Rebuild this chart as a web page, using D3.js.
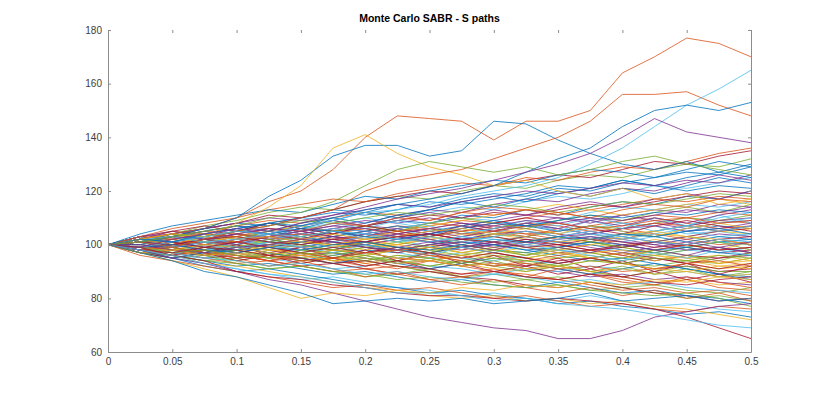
<!DOCTYPE html>
<html>
<head>
<meta charset="utf-8">
<script src="https://cdn.jsdelivr.net/npm/d3@7"></script>
<style>
  body { margin: 0; background: #fff; }
  svg { display: block; font-family: "Liberation Sans", Arial, sans-serif; }
</style>
</head>
<body>
<div id="viz"></div>
<script>
const margin = {top: 30, right: 79, bottom: 44, left: 108};
const width = 830;
const height = 396;

// time grid of the paths (years)
const timeGrid = [0, 0.025, 0.05, 0.075, 0.1, 0.125, 0.15, 0.175, 0.2, 0.225, 0.25,
  0.275, 0.3, 0.325, 0.35, 0.375, 0.4, 0.425, 0.45, 0.475, 0.5];

const xTicks = [0, 0.05, 0.1, 0.15, 0.2, 0.25, 0.3, 0.35, 0.4, 0.45, 0.5];
const yTicks = [60, 80, 100, 120, 140, 160, 180];

// paths inside the main band (values read / estimated from the picture)
const bandPaths = [
  [100,102,99,101,104,103,106,104,107,109,108,111,110,113,111,114,116,115,118,117,120],
  [100,98,99,96,97,94,95,93,91,92,90,89,91,88,87,89,86,85,87,84,83],
  [100,101,103,100,98,99,102,101,99,100,103,101,104,102,100,101,99,102,100,98,101],
  [100,99,97,98,101,103,102,105,107,106,104,107,109,111,110,108,111,113,112,115,114],
  [100,97,95,96,93,91,92,90,88,89,91,88,86,87,85,83,84,82,80,81,79],
  [100,102,104,106,105,108,110,109,107,110,112,114,113,116,118,117,119,122,121,123,125],
  [100,99,101,99,97,95,96,98,97,95,94,96,93,92,94,95,93,91,92,90,91],
  [100,101,99,102,104,102,100,98,101,103,102,100,98,97,99,101,104,103,105,107,106],
  [100,103,101,104,102,105,103,101,104,106,108,107,105,103,106,104,102,105,107,109,108],
  [100,98,96,98,100,99,97,95,93,95,97,96,98,100,99,97,95,96,94,92,93],
  [100,100,102,104,103,101,104,106,108,111,113,112,115,117,116,119,121,120,123,126,124],
  [100,99,96,94,95,97,95,93,94,92,90,88,89,87,88,86,84,85,83,82,84],
  [100,102,100,98,99,101,100,102,104,102,99,101,103,105,104,106,108,107,104,105,103],
  [100,98,100,102,101,99,101,103,102,104,106,105,107,106,104,102,100,101,99,97,98],
  [100,101,98,97,95,96,94,96,98,97,99,101,100,98,96,94,95,93,91,89,88],
  [100,103,105,104,107,109,108,110,112,111,109,112,114,113,111,113,115,117,116,118,117],
  [100,97,99,97,94,92,93,95,94,96,95,93,91,90,92,90,88,86,87,85,86],
  [100,101,103,102,100,102,104,103,105,103,101,99,100,102,101,103,102,100,102,104,103],
  [100,99,98,100,99,101,99,97,96,98,100,102,101,103,105,107,106,108,110,109,111],
  [100,102,101,99,101,100,98,100,99,97,95,97,96,94,93,95,97,96,98,97,99],
  [100,98,97,95,96,94,92,93,91,89,90,88,87,85,84,86,84,82,81,79,80],
  [100,101,104,106,108,107,110,113,112,115,114,117,119,118,121,120,123,125,127,126,129],
  [100,99,100,102,104,106,105,103,105,107,106,108,106,104,105,107,109,111,110,112,111],
  [100,102,100,97,98,96,98,97,99,98,96,95,97,99,98,100,99,97,95,96,94],
  [100,98,99,101,100,98,96,97,95,93,94,92,93,91,90,88,89,87,88,86,85],
  [100,101,102,104,102,105,107,105,103,101,103,105,103,101,103,101,99,101,103,101,100],
  [100,99,101,100,102,101,103,105,104,106,108,110,109,107,109,112,114,113,115,114,116],
  [100,102,103,101,99,97,99,101,100,98,100,99,101,99,97,98,96,94,96,95,97],
  [100,97,96,94,92,93,91,89,90,88,86,87,85,84,86,84,82,83,81,80,78],
  [100,101,100,103,105,104,102,104,106,105,107,109,108,110,112,110,108,110,108,106,107],
  [100,100,98,99,97,99,101,100,98,100,102,104,103,105,103,101,103,105,107,105,106],
  [100,102,104,103,101,103,105,107,109,108,110,108,106,108,110,109,111,109,107,109,110],
  [100,99,97,99,98,96,94,95,97,99,98,96,98,97,95,96,94,96,98,99,97],
  [100,98,96,95,97,95,93,91,92,94,92,91,89,91,90,92,91,89,90,88,89],
  [100,103,102,100,102,104,106,105,107,109,111,110,112,111,113,115,114,116,118,120,119],
  [100,101,99,101,103,105,103,101,99,98,100,102,104,103,101,100,98,97,99,101,102],
  [100,99,102,104,103,101,99,98,100,102,101,103,105,104,102,104,106,104,102,100,101],
  [100,98,100,98,96,98,97,99,101,100,102,100,98,96,98,100,102,104,103,105,104],
  [100,101,103,105,107,106,104,106,105,103,105,103,105,107,106,104,106,108,106,108,109],
  [100,99,97,96,94,96,98,97,95,94,92,94,96,95,97,95,93,92,94,93,95],
  [100,102,101,103,102,100,97,99,97,95,97,95,94,96,98,97,99,101,99,101,100],
  [100,97,98,96,98,100,99,101,99,97,99,98,100,102,100,98,100,98,100,102,100],
  [100,101,103,104,106,108,110,112,111,113,116,115,117,119,122,121,124,122,120,122,121],
  [100,99,97,95,93,94,92,90,91,89,87,88,90,89,87,85,83,84,82,83,81],
  [100,100,102,100,102,104,102,100,102,100,98,99,97,95,97,95,93,91,93,91,92],
  [100,102,104,102,104,102,100,102,100,102,104,102,100,101,103,105,103,101,103,105,107],
  [100,98,99,97,99,97,95,97,99,101,99,97,99,101,103,101,99,97,99,101,98],
  [100,101,100,98,100,102,104,106,105,103,101,103,101,99,101,103,101,103,105,103,104],
  [100,99,101,103,101,103,105,103,101,99,97,99,97,95,93,95,97,95,93,95,96],
  [100,103,101,99,97,99,101,103,105,107,105,107,109,107,105,107,105,103,101,103,102],
  [100,98,96,98,96,94,96,94,92,94,96,94,92,94,96,98,96,98,100,98,99],
  [100,101,103,101,103,105,107,109,107,105,107,109,111,113,115,113,111,113,115,117,115],
  [100,99,98,96,97,99,97,95,97,99,101,99,101,103,101,99,97,99,101,99,97],
  [100,102,100,102,100,98,100,98,96,94,92,94,92,90,92,90,88,90,92,90,90],
  [100,101,102,104,106,104,106,108,110,108,106,104,106,108,106,104,102,104,106,108,110],
  [100,99,100,101,99,100,102,100,101,103,104,102,103,101,100,102,101,99,100,102,103],
  [100,100,99,97,98,100,101,99,100,98,97,99,100,98,99,101,100,98,99,97,96],
  [100,102,103,105,104,102,103,105,106,104,103,105,106,108,107,105,106,108,107,105,106],
  [100,98,97,99,100,98,97,95,96,98,99,97,96,94,95,97,98,96,95,93,94],
  [100,101,99,100,102,103,101,102,104,103,101,102,104,105,103,104,106,107,105,106,108],
  [100,102,104,107,109,112,114,113,116,118,117,120,122,121,124,126,125,128,130,129,132],
  [100,98,95,93,91,89,87,88,86,84,83,81,82,80,79,81,79,77,78,76,75],
  [100,101,103,106,108,111,110,113,116,118,120,119,122,124,126,125,128,131,130,133,135],
  [100,97,95,92,90,91,89,87,85,84,82,83,81,80,78,79,77,76,74,75,73],
  [100,103,106,108,110,113,115,117,116,119,121,123,122,125,124,127,129,128,131,134,136],
  [100,98,96,93,92,90,88,86,84,83,81,80,81,79,80,78,79,77,76,74,72],
  [100,103,105,103,106,104,107,109,107,110,112,110,113,111,114,116,114,117,119,117,120],
  [100,97,99,96,98,95,97,94,96,93,95,92,94,91,93,90,92,89,91,88,90],
  [100,102,99,103,100,104,101,105,102,106,103,107,104,108,105,109,106,110,107,111,108],
  [100,98,101,97,100,96,99,95,98,94,97,93,96,92,95,91,94,90,93,89,92],
  [100,101,104,102,105,108,106,109,112,110,113,116,114,117,120,118,121,119,122,125,123],
  [100,99,96,98,95,92,94,91,88,90,87,85,87,84,82,84,81,83,80,82,79],
  [100,102,104,101,103,100,102,99,101,98,100,97,99,96,98,95,97,94,96,93,95],
  [100,98,96,99,101,104,102,105,103,106,104,107,105,108,106,109,107,110,108,111,113],
  [100,101,99,97,99,102,100,98,101,99,97,100,98,96,99,97,95,98,96,94,97],
  [100,103,101,104,106,103,105,108,106,109,107,104,106,109,107,110,108,105,107,110,112],
  [100,97,95,97,94,96,93,95,92,94,91,93,90,92,89,91,88,90,87,89,86],
  [100,100,103,105,107,105,108,110,108,111,113,116,118,116,119,121,124,122,125,127,130],
  [100,99,101,98,96,94,97,95,93,91,94,92,90,88,91,89,87,85,88,86,84],
  [100,102,100,103,101,99,102,104,102,105,103,101,104,106,104,107,105,103,106,108,106],
  [100,98,100,102,100,103,105,103,101,104,102,100,98,101,99,97,100,98,96,99,97],
  [100,101,103,101,99,101,103,105,107,105,108,110,108,106,109,111,109,112,114,112,115],
  [100,99,97,100,98,101,99,97,100,98,96,99,97,100,98,96,94,97,95,98,96],
  [100,102,105,107,105,108,106,104,107,105,103,106,108,110,108,106,104,107,109,107,105],
  [100,98,95,97,99,97,95,93,95,93,91,93,95,93,91,89,91,93,91,89,87],
  [100,101,102,100,101,103,104,102,103,105,106,104,105,107,108,106,107,109,110,108,109],
  [100,99,98,100,99,97,96,98,97,95,94,96,95,93,92,94,93,91,90,92,91],
  [100,103,104,106,108,110,109,111,113,115,114,116,118,120,119,121,123,122,124,123,126],
  [100,97,96,94,93,91,92,90,89,87,88,86,85,84,85,83,82,81,82,80,77],
  [100,101,99,101,99,101,99,101,103,101,103,101,103,105,103,105,103,105,107,105,107],
  [100,99,101,99,101,99,97,99,97,99,97,95,97,95,93,95,93,95,93,91,93],
  [100,102,101,103,105,104,106,105,103,102,104,106,108,107,109,111,110,112,111,113,112],
  [100,98,99,97,95,96,94,95,97,98,96,94,92,93,91,92,90,91,93,94,92],
  [100,101,103,104,102,103,101,100,102,103,105,106,104,103,101,102,104,105,103,102,100],
  [100,100,98,97,99,100,102,101,99,98,100,101,99,100,102,103,101,100,98,99,101],
  [100,102,104,103,105,107,109,108,110,112,111,113,115,114,112,114,116,115,117,119,118],
  [100,98,97,95,94,92,93,91,89,90,88,87,89,88,86,87,85,86,84,83,82],
  [100,101,100,102,103,101,100,102,101,103,104,102,101,99,100,98,99,101,100,98,99],
  [100,99,100,98,97,99,98,100,101,99,98,100,102,101,103,102,104,103,105,106,104],
  [100,103,102,104,103,106,105,108,107,110,109,112,111,113,112,110,113,115,114,117,116],
  [100,97,98,96,97,95,96,94,95,93,94,92,93,91,92,90,91,89,90,88,89],
  [100,101,103,102,104,106,105,107,106,104,106,108,107,109,108,110,109,111,113,112,114],
  [100,99,97,98,96,95,97,96,94,96,95,93,95,94,92,94,93,95,94,96,95],
  [100,102,103,101,102,104,103,105,104,102,101,103,102,100,102,104,103,101,100,102,101],
  [100,98,97,99,98,96,95,93,94,92,91,89,90,88,87,89,88,86,85,87,88],
  [100,104,107,109,111,113,112,115,118,117,120,122,124,123,126,128,127,125,128,131,129],
  [100,96,94,92,90,88,86,84,85,83,84,82,80,81,79,77,78,76,75,77,76]
];

// paths standing out of the band
const outlierPaths = [
  [100,102,104,106,110,116,120,128,140,148,147,146,139,146,146,150,164,170,177,175,170],
  [100,101,103,106,110,118,124,133,137,137,133,135,146,145,139,134,130,128,131,127,125],
  [100,102,104,103,108,114,122,136,141,134,129,126,122,124,120,118,121,117,119,115,117],
  [100,101,99,102,105,107,110,113,120,124,126,128,132,136,140,146,156,156,157,152,148],
  [100,99,101,103,105,104,107,109,112,113,115,118,120,122,125,130,136,144,152,158,165],
  [100,102,101,104,106,108,107,110,113,115,117,119,122,127,132,136,144,150,152,150,153],
  [100,101,103,105,107,110,112,116,122,128,131,129,127,129,126,128,131,133,130,128,126],
  [100,99,102,104,106,105,108,111,114,117,119,121,124,127,130,134,140,147,142,140,138],
  [100,98,95,93,90,87,85,82,79,76,73,71,69,68,65,65,68,73,75,77,78],
  [100,99,96,94,90,88,87,85,84,82,81,81,80,79,80,79,78,76,73,69,65],
  [100,98,96,93,91,89,88,86,84,82,82,81,79,80,78,77,76,74,72,70,69],
  [100,97,94,91,88,84,80,82,81,83,82,84,83,85,84,86,85,87,86,88,87],
  [100,97,94,90,88,85,82,78,79,80,79,80,78,79,80,82,79,80,81,79,80]
];
const outlierColorIndex = [1, 0, 2, 1, 5, 0, 4, 3, 3, 6, 5, 2, 0];

// MATLAB default line colour order
const palette = ['#0072BD', '#D95319', '#EDB120', '#7E2F8E', '#77AC30', '#4DBEEE', '#A2142F'];

const createViz = () => {
  const scaleX = d3.scaleLinear()
    .domain([0, 0.5])
    .range([margin.left, width - margin.right]);

  const scaleY = d3.scaleLinear()
    .domain([60, 180])
    .range([height - margin.bottom, margin.top]);

  const svg = d3.select('#viz')
    .append('svg')
      .attr('viewBox', [0, 0, width, height])
      .attr('width', width)
      .attr('height', height);

  svg.append('defs').append('clipPath').attr('id', 'plot-clip')
    .append('rect')
      .attr('x', margin.left)
      .attr('y', margin.top)
      .attr('width', width - margin.left - margin.right)
      .attr('height', height - margin.top - margin.bottom);

  const line = d3.line()
    .x((d, i) => scaleX(timeGrid[i]))
    .y(d => scaleY(d));

  const allPaths = [
    ...bandPaths.map((p, i) => ({values: p, color: palette[i % palette.length]})),
    ...outlierPaths.map((p, i) => ({values: p, color: palette[outlierColorIndex[i]]}))
  ];

  svg.append('g')
      .attr('class', 'paths')
      .attr('clip-path', 'url(#plot-clip)')
    .selectAll('path')
    .data(allPaths)
    .join('path')
      .attr('d', d => line(d.values))
      .attr('fill', 'none')
      .attr('stroke', d => d.color)
      .attr('stroke-width', 0.8)
      .attr('stroke-linejoin', 'round');

  const axisColor = '#8c8c8c';
  const textColor = '#404040';

  // bottom axis
  const xAxis = svg.append('g')
      .attr('transform', `translate(0,${height - margin.bottom})`)
    .call(d3.axisBottom(scaleX)
      .tickValues(xTicks)
      .tickFormat(d3.format(''))
      .tickSizeInner(-3)
      .tickSizeOuter(0)
      .tickPadding(6));

  // left axis
  const yAxis = svg.append('g')
      .attr('transform', `translate(${margin.left},0)`)
    .call(d3.axisLeft(scaleY)
      .tickValues(yTicks)
      .tickSizeInner(-3)
      .tickSizeOuter(0)
      .tickPadding(6));

  // top ticks (no line) and right axis
  const xTop = svg.append('g')
      .attr('transform', `translate(0,${margin.top})`)
    .call(d3.axisTop(scaleX).tickValues(xTicks).tickFormat('').tickSizeInner(-3).tickSizeOuter(0));
  xTop.select('.domain').remove();

  const yRight = svg.append('g')
      .attr('transform', `translate(${width - margin.right},0)`)
    .call(d3.axisRight(scaleY).tickValues(yTicks).tickFormat('').tickSizeInner(-3).tickSizeOuter(0));

  [xAxis, yAxis, xTop, yRight].forEach(g => {
    g.selectAll('.domain').attr('stroke', axisColor);
    g.selectAll('.tick line').attr('stroke', axisColor);
    g.selectAll('.tick text')
      .attr('fill', textColor)
      .style('font-size', '10px')
      .style('font-family', '"Liberation Sans", Arial, sans-serif');
  });

  svg.append('text')
      .attr('x', (margin.left + width - margin.right) / 2)
      .attr('y', 22)
      .attr('text-anchor', 'middle')
      .style('font-size', '10.5px')
      .style('font-weight', 'bold')
      .attr('fill', '#000')
      .text('Monte Carlo SABR - S paths');
};

createViz();
</script>
</body>
</html>
